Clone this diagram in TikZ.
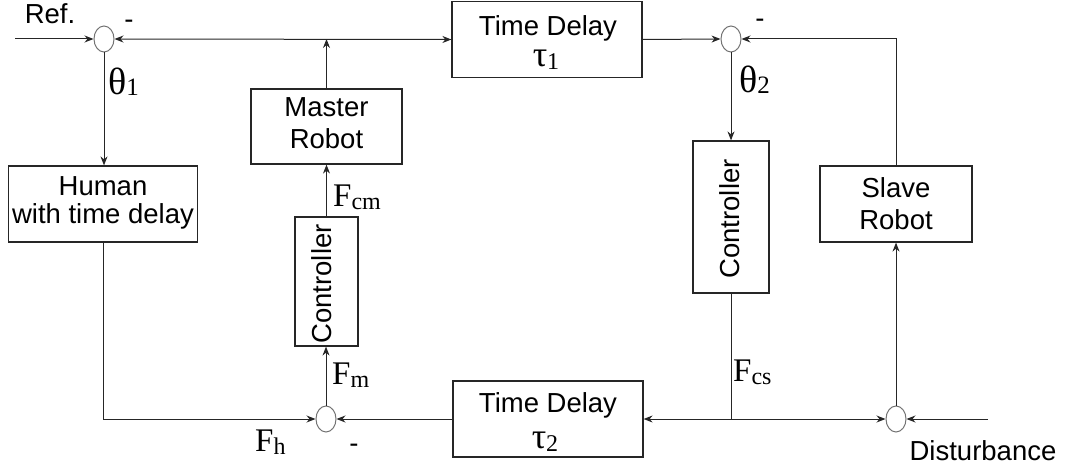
\documentclass[tikz,border=0pt]{standalone}
\usepackage{fontspec}
\setmainfont{Liberation Sans}
\newfontfamily\tnr{Liberation Serif}
\usetikzlibrary{shapes.geometric,arrows.meta}
\newcommand{\flab}[2]{{\tnr\fontsize{33}{33}\selectfont #1\raisebox{-3pt}{\fontsize{24}{24}\selectfont #2}}}
\newcommand{\glab}[2]{{\tnr\fontsize{38}{38}\selectfont #1\raisebox{-1pt}{\fontsize{25}{25}\selectfont #2}}}
\newcommand{\tlab}[2]{{\tnr\fontsize{36}{36}\selectfont #1\raisebox{-3pt}{\fontsize{24}{24}\selectfont #2}}}
\begin{document}
\begin{tikzpicture}[x=1pt,y=-1pt,
  blk/.style={draw=black!85, line width=1.2pt, inner sep=0pt},
  txt/.style={inner sep=0pt, font=\fontsize{27.5}{31}\selectfont, text=black},
  sumj/.style={ellipse, draw=black!55, line width=1pt, minimum width=20pt, minimum height=26pt, inner sep=0pt},
  conn/.style={line width=1pt, draw=black!85},
  arr/.style={conn, -{Stealth[length=9pt,width=7pt]}},
  darr/.style={conn, {Stealth[length=9pt,width=7pt]}-{Stealth[length=9pt,width=7pt]}},
]
\useasboundingbox (0,0) rectangle (1065,468);
% blocks
\node[blk, minimum width=189pt, minimum height=76pt] (human) at (103,204) {};
\node[blk, minimum width=151pt, minimum height=75pt] (master) at (326.5,126.5) {};
\node[blk, minimum width=190pt, minimum height=76pt] (td1) at (547,39.5) {};
\node[blk, minimum width=63pt, minimum height=129pt] (c1) at (326.5,281.5) {};
\node[blk, minimum width=76pt, minimum height=152pt] (c2) at (731,217) {};
\node[blk, minimum width=152pt, minimum height=76pt] (slave) at (896,204) {};
\node[blk, minimum width=190pt, minimum height=76pt] (td2) at (548,419) {};
% summing junctions
\node[sumj] (s1) at (104,39) {};
\node[sumj] (s2) at (731,39) {};
\node[sumj] (s3) at (896,419) {};
\node[sumj] (s4) at (326,419) {};
% block texts
\node[txt, anchor=base] (humana) at (103,195) {Human};
\node[txt, anchor=base] (humanb) at (103,223) {with time delay};
\node[txt, anchor=base] (mastera) at (326.5,117) {Master};
\node[txt, anchor=base] (masterb) at (326.5,148) {Robot};
\node[txt, anchor=base] (td1a) at (548,36) {Time Delay};
\node[txt, anchor=base] (td1b) at (546,67) {\tlab{τ}{1}};
\node[txt, anchor=base] (td2a) at (548,412) {Time Delay};
\node[txt, anchor=base] (td2b) at (545,448) {\tlab{τ}{2}};
\node[txt, anchor=base] (slavea) at (896,197) {Slave};
\node[txt, anchor=base] (slaveb) at (896,229) {Robot};
\node[txt, rotate=90] (c1t) at (322,284) {Controller};
\node[txt, rotate=90] (c2t) at (730,219) {Controller};
% connectors
\coordinate (refin) at (15,39);
\draw[arr] (refin) -- (s1.west);
\draw[darr] (s1.east) -- (td1.west);
\draw[arr] (master.north) -- (master.north |- s1.east);
\draw[arr] (td1.east) -- (s2.west);
\draw[arr] (slave.north) |- (s2.east);
\draw[arr] (s2.south) -- (c2.north);
\draw[arr] (s1.south) -- (s1.south |- human.north);
\draw[arr] (human.south) |- (s4.west);
\draw[arr] (td2.west) -- (s4.east);
\draw[arr] (s4.north) -- (s4.north |- c1.south);
\draw[arr] (c1.north) -- (c1.north |- master.south);
\coordinate (j2) at (c2.south |- s3.west);
\draw[conn] (c2.south) -- (j2);
\draw[arr] (j2) -- (td2.east);
\draw[arr] (j2) -- (s3.west);
\coordinate (dist) at (988,419);
\draw[arr] (dist) -- (s3.east);
\draw[arr] (s3.north) -- (s3.north |- slave.south);
% labels
\node[txt] (ref) at (50,14) {Ref.};
\node[txt, anchor=base] (m1) at (129,29) {-};
\node[txt, anchor=base] (m2) at (760,28) {-};
\node[txt, anchor=base] (m3) at (354,452) {-};
\node[txt, anchor=base] (dis) at (983,460) {Disturbance};
\node[inner sep=0pt, anchor=base west] (th1) at (108,95) {\glab{θ}{1}};
\node[inner sep=0pt, anchor=base west] (th2) at (739,93) {\glab{θ}{2}};
\node[inner sep=0pt, anchor=base west] (fcm) at (333,206) {\flab{F}{cm}};
\node[inner sep=0pt, anchor=base west] (fm) at (332,384) {\flab{F}{m}};
\node[inner sep=0pt, anchor=base west] (fh) at (255,451) {\flab{F}{h}};
\node[inner sep=0pt, anchor=base west] (fcs) at (733,381) {\flab{F}{cs}};
\end{tikzpicture}
\end{document}
